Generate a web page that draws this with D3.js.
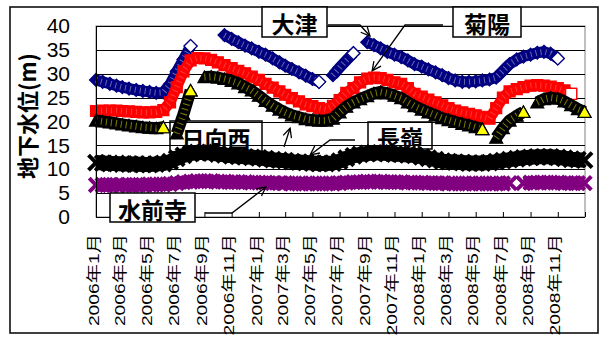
<!DOCTYPE html>
<html><head><meta charset="utf-8">
<script src="https://cdn.jsdelivr.net/npm/d3@7"></script>
<style>body{margin:0;background:#fff}svg{display:block}</style>
</head><body>
<svg id="c" width="609" height="338"></svg>
<script>
// ---------- DATA ----------
// observation dates: 1st and 16th of each month 2006-2008, plus 2008-12-31
const years = [2006, 2007, 2008];
const dates = [];
years.forEach(y => { for (let m = 0; m < 12; m++) { dates.push(new Date(Date.UTC(y, m, 1))); dates.push(new Date(Date.UTC(y, m, 16))); } });
dates.push(new Date(Date.UTC(2008, 11, 31)));

const seriesNames = ["大津", "菊陽", "日向西", "長嶺", "水前寺"];

const otsu = [
  28.7,28.3,27.9,27.5,27.2,26.9,26.6,26.4,26.2,26.0,26.1,27.8,30.5,33.0,35.8,null,null,null,null,38.1,37.3,36.6,35.9,35.3,
  34.6,34.0,33.2,32.4,31.7,31.0,30.3,29.6,28.9,28.3,null,29.7,31.3,32.8,34.3,null,36.6,36.0,35.3,34.6,34.0,33.5,32.8,32.0,
  31.5,30.9,30.3,29.7,29.1,28.6,28.3,28.3,28.4,28.6,28.8,29.2,30.6,32.0,33.0,33.6,34.0,34.4,34.6,34.2,33.2,null,null,null,null
];
const kikuyo = [
  22.2,22.3,22.3,22.3,22.2,22.1,22.0,21.9,21.9,22.0,22.4,24.0,27.2,30.5,32.8,33.3,33.2,32.9,32.4,31.8,31.2,30.6,30.1,29.4,
  28.7,27.9,27.1,26.3,25.6,24.9,24.2,23.6,23.2,22.8,22.5,23.3,24.5,26.0,27.0,28.2,29.0,29.2,29.1,28.7,28.2,27.9,27.0,25.8,
  25.2,24.6,24.0,23.4,22.8,22.3,21.9,21.6,21.3,21.0,20.6,22.8,25.0,26.3,26.8,27.2,27.5,27.6,27.5,27.3,27.0,26.5,25.8,null,null
];
const hyuganishi = [
  20.2,20.0,19.8,19.6,19.4,19.2,19.0,18.8,18.7,18.6,18.8,null,17.5,21.5,26.5,null,29.3,29.4,29.2,28.9,28.5,28.0,27.2,26.5,
  25.4,24.3,23.3,22.5,21.9,21.3,20.9,20.5,20.3,20.2,20.2,20.6,21.9,23.1,24.0,24.7,25.3,25.9,26.2,25.9,25.4,24.9,24.0,23.2,
  22.5,21.9,21.3,20.7,20.3,19.9,19.5,19.2,18.8,18.4,null,16.6,18.6,20.2,21.2,22.0,null,24.0,24.7,25.0,24.8,24.2,23.4,22.6,22.0
];
const nagamine = [
  11.4,11.3,11.2,11.2,11.1,11.1,11.1,11.0,11.0,11.1,11.2,11.6,12.3,12.9,13.3,13.5,13.5,13.4,13.2,13.0,12.8,12.7,12.6,12.5,
  12.4,12.2,12.0,11.9,11.8,11.6,11.5,11.4,11.3,11.2,11.2,11.3,11.7,12.3,12.8,13.1,13.3,13.4,13.4,13.3,13.2,13.1,13.0,12.9,
  12.6,12.3,12.0,11.7,11.6,11.5,11.4,11.3,11.3,11.3,11.4,11.6,11.8,12.0,12.2,12.4,12.5,12.6,12.6,12.6,12.5,12.3,12.1,12.0,11.9
];
const suizenji = [
  6.7,6.7,6.7,6.7,6.7,6.7,6.7,6.7,6.8,6.8,6.8,6.9,7.1,7.3,7.4,7.5,7.5,7.5,7.4,7.4,7.3,7.3,7.3,7.2,
  7.2,7.2,7.1,7.1,7.1,7.0,7.0,7.0,7.0,7.0,7.0,7.0,7.1,7.2,7.3,7.3,7.4,7.4,7.4,7.3,7.3,7.3,7.2,7.2,
  7.2,7.1,7.1,7.1,7.0,7.0,7.0,7.0,7.0,7.0,7.0,7.0,7.0,7.1,null,7.1,7.2,7.2,7.2,7.2,7.2,7.1,7.1,7.1,7.1
];

const yTicks = [0, 5, 10, 15, 20, 25, 30, 35, 40];
const xTickLabels = ["2006年1月","2006年3月","2006年5月","2006年7月","2006年9月","2006年11月",
  "2007年1月","2007年3月","2007年5月","2007年7月","2007年9月","2007年11月",
  "2008年1月","2008年3月","2008年5月","2008年7月","2008年9月","2008年11月"];
const yTitle = "地下水位(m)";

// annotation tips given in data space [date, value]
const labelTips = {
  "大津": ["2007-09-07", 37.9],
  "菊陽": ["2007-09-12", 30.6],
  "日向西": ["2007-03-12", 18.6],
  "長嶺": ["2007-04-26", 13.0],
  "水前寺": ["2007-01-17", 6.3]
};

// ---------- LAYOUT ----------
const svg = d3.select("#c");
const L = 96, R = 585, T = 26, B = 217;
const x = d3.scaleUtc().domain([new Date(Date.UTC(2006,0,1)), new Date(Date.UTC(2009,0,1))]).range([L, R]);
const y = d3.scaleLinear().domain([0, 40]).range([B, T]);

svg.append("rect").attr("x", 10).attr("y", 7).attr("width", 588).attr("height", 326)
  .attr("fill", "#fff").attr("stroke", "#000").attr("stroke-width", 1.5);

svg.append("rect").attr("x", L).attr("y", T).attr("width", R - L).attr("height", B - T)
  .attr("fill", "none").attr("stroke", "#808080").attr("stroke-width", 1);

svg.append("g").selectAll("line").data(yTicks.filter(d => d > 0)).join("line")
  .attr("x1", L).attr("x2", R).attr("y1", d => Math.round(y(d)) + 0.5).attr("y2", d => Math.round(y(d)) + 0.5)
  .attr("stroke", "#000").attr("stroke-width", 1);

// ---------- SERIES ----------
const specs = [
  {vals: otsu, dark: "#000080", light: "#ffffff", band: 11, shape: "diamond", tex: "#ffffff", texOp: 0.4},
  {vals: kikuyo, dark: "#ff0000", light: "#ffffff", band: 11, shape: "square", tex: "#ffe0e0", texOp: 0.25},
  {vals: hyuganishi, dark: "#000000", light: "#ffff00", band: 12, shape: "triangle", tex: "#8a8a00", texOp: 0.9},
  {vals: nagamine, dark: "#000000", light: null, band: 15, shape: "x", half: 7.5},
  {vals: suizenji, dark: "#800080", light: null, band: 13, shape: "x", half: 6.8}
];
const shapes = {
  diamond: "M0,-6.5L6.5,0L0,6.5L-6.5,0Z",
  square: "M-5.5,-5.5h11v11h-11Z",
  triangle: "M0,-6L6.5,5.5L-6.5,5.5Z"
};

specs.forEach(s => {
  const pts = dates.map((d, i) => ({d, v: s.vals[i], i}));
  const line = d3.line().defined(p => p.v != null).x(p => x(p.d)).y(p => y(p.v)).curve(d3.curveLinear);
  const g = svg.append("g");
  g.append("path").attr("d", line(pts)).attr("fill", "none").attr("stroke", s.dark)
    .attr("stroke-width", s.band).attr("stroke-linejoin", "round");
  const valid = pts.filter(p => p.v != null);
  valid.forEach(p => {
    const isEnd = (p.i === pts.length - 1) || pts[p.i + 1].v == null;
    const tx = `translate(${x(p.d)},${y(p.v)})`;
    if (s.shape === "x") {
      const h = s.half;
      g.append("path").attr("transform", tx)
        .attr("d", `M${-h},${-h}L${h},${h}M${-h},${h}L${h},${-h}`)
        .attr("stroke", s.dark).attr("stroke-width", 4).attr("fill", "none");
    } else {
      g.append("path").attr("transform", tx).attr("d", shapes[s.shape])
        .attr("fill", isEnd ? s.light : s.dark).attr("stroke", s.dark).attr("stroke-width", 1.2);
    }
  });
  if (s.tex) {
    // hatch texture that appears inside the dense marker band
    const segs = [];
    let cur = [];
    pts.forEach(p => { if (p.v == null) { if (cur.length) segs.push(cur); cur = []; } else cur.push(p); });
    if (cur.length) segs.push(cur);
    segs.forEach(sg => {
      const body = sg.length > 1 ? sg.slice(0, -1).concat([sg[sg.length - 1]]) : sg;
      g.append("path").attr("d", line(body)).attr("fill", "none").attr("stroke", s.tex)
        .attr("stroke-width", s.band - 5).attr("stroke-dasharray", "1 4").attr("opacity", s.texOp)
        .attr("stroke-dashoffset", 0);
    });
    // redraw last marker of each segment on top
    valid.forEach(p => {
      const isEnd = (p.i === pts.length - 1) || pts[p.i + 1].v == null;
      if (!isEnd) return;
      g.append("path").attr("transform", `translate(${x(p.d)},${y(p.v)})`).attr("d", shapes[s.shape])
        .attr("fill", s.light).attr("stroke", s.dark).attr("stroke-width", 1.2);
    });
  }
});

// ---------- AXES ----------
svg.append("line").attr("x1", L + 0.5).attr("x2", L + 0.5).attr("y1", T).attr("y2", B).attr("stroke", "#000");
svg.append("line").attr("x1", L).attr("x2", R).attr("y1", B + 0.5).attr("y2", B + 0.5).attr("stroke", "#000");

const yAxis = d3.axisLeft(y).tickValues(yTicks).tickSize(0).tickPadding(26);
const ya = svg.append("g").attr("transform", `translate(${L},0)`).call(yAxis);
ya.select(".domain").remove();
ya.selectAll("text").attr("font-family", "'Liberation Sans', Arial, sans-serif").attr("font-size", 21).attr("fill", "#000");

const tickDates = d3.utcMonth.every(2).range(new Date(Date.UTC(2006,0,1)), new Date(Date.UTC(2009,0,2)));
const xAxis = d3.axisBottom(x).tickValues(tickDates).tickSize(-5).tickFormat("");
const xa = svg.append("g").attr("transform", `translate(0,${B})`).call(xAxis);
xa.select(".domain").remove();
xa.selectAll("line").attr("stroke", "#000");

svg.append("g").selectAll("text").data(xTickLabels).join("text")
  .attr("transform", (d, i) => `translate(${x(tickDates[i]) - 2},234) rotate(-90) scale(1.33,1)`)
  .attr("text-anchor", "end").attr("dominant-baseline", "central")
  .attr("font-family", "'Liberation Sans', 'Noto Sans CJK JP', sans-serif").attr("font-size", 14.5)
  .attr("fill", "#000").text(d => d);

svg.append("text").attr("transform", "translate(26,116) rotate(-90)")
  .attr("text-anchor", "middle").attr("dominant-baseline", "central")
  .attr("font-family", "'Noto Sans CJK JP', sans-serif").attr("font-weight", "bold").attr("font-size", 22)
  .text(yTitle);

// ---------- CALLOUTS ----------
const callouts = [
  {name: "大津", box: [262, 7, 65, 30], fill: "#fff", tail: [[328, 25], [360, 25]]},
  {name: "菊陽", box: [453, 7, 68, 30], fill: "#fff", tail: [[443, 25], [405, 25]]},
  {name: "日向西", box: [170, 121, 92, 31], fill: "none", tail: [[284, 147]]},
  {name: "長嶺", box: [368, 122, 64, 27], fill: "none", tail: [[355, 140], [330, 140]]},
  {name: "水前寺", box: [110, 193, 85, 29], fill: "#fff", tail: [[205, 213], [232, 213]]}
];
const ag = svg.append("g");
callouts.forEach(c => {
  const [bx, by, bw, bh] = c.box;
  ag.append("rect").attr("x", bx).attr("y", by).attr("width", bw).attr("height", bh)
    .attr("fill", c.fill).attr("stroke", "#000").attr("stroke-width", 1.5);
  ag.append("text").attr("x", bx + bw / 2).attr("y", by + bh / 2 + 1)
    .attr("text-anchor", "middle").attr("dominant-baseline", "central")
    .attr("font-family", "'Noto Sans CJK JP', sans-serif").attr("font-weight", "bold").attr("font-size", 23)
    .text(c.name);
  const t = labelTips[c.name];
  const tip = [x(new Date(t[0] + "T00:00:00Z")), y(t[1])];
  const pts = c.tail.concat([tip]);
  ag.append("path").attr("d", d3.line()(pts)).attr("fill", "none").attr("stroke", "#000").attr("stroke-width", 1.3);
  const prev = pts[pts.length - 2];
  const ang = Math.atan2(tip[1] - prev[1], tip[0] - prev[0]);
  const len = 10, spread = 0.45;
  const p1 = [tip[0] - len * Math.cos(ang - spread), tip[1] - len * Math.sin(ang - spread)];
  const p2 = [tip[0] - len * Math.cos(ang + spread), tip[1] - len * Math.sin(ang + spread)];
  ag.append("path").attr("d", `M${p1}L${tip}L${p2}`).attr("fill", "none").attr("stroke", "#000").attr("stroke-width", 1.3);
});
</script>
</body></html>
